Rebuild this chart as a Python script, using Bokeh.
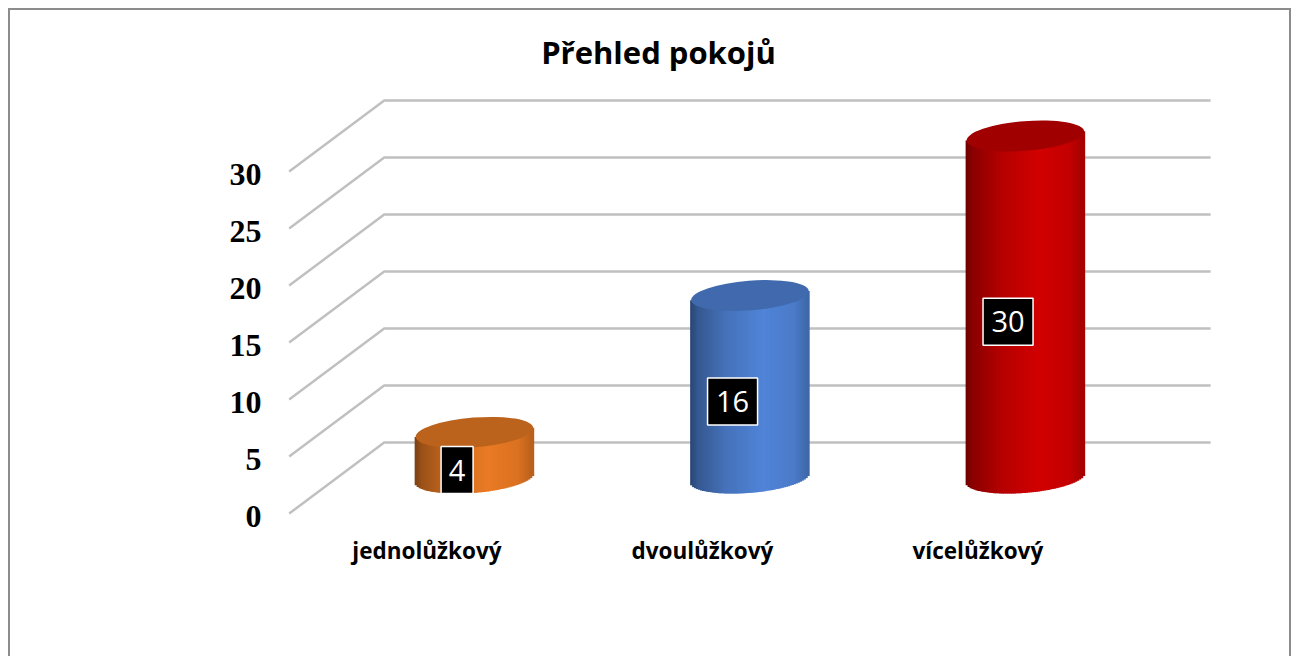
import numpy as np
from bokeh.plotting import figure
from bokeh.models import (Range1d, LinearAxis, FixedTicker, CustomJSTickFormatter,
                          Label, ColumnDataSource)
from bokeh.core.properties import value
from bokeh.embed import file_html
from bokeh.resources import INLINE

# ---------------- data ----------------
title_text = "Přehled pokojů"
categories = ["jednolůžkový", "dvoulůžkový", "vícelůžkový"]
counts = [4, 16, 30]
y_ticks = [0, 5, 10, 15, 20, 25, 30]

# ---------------- styles ----------------
lit_colors = ["#ea7a24", "#5084d8", "#d20000"]
top_factor = [0.80, 0.80, 0.76]
grid_color = "#c0c0c0"

# 3D geometry (pseudo-perspective), in data units
half_dx = 0.1725      # x shift from mid depth to back wall
half_dy = 3.12        # y shift from mid depth to back wall
radius_x = 0.214      # cylinder half width
radius_y = 1.3        # cylinder ellipse half height
tilt = 0.08           # ellipse tilt (radians, screen space)
px_per_x = 275.5
px_per_y = 11.4
x_lo, x_hi = -0.704, 2.966
y_lo, y_hi = -4.605, 41.18
label_nudge = 0.25    # small vertical nudge of the value-axis labels

p = figure(width=1283, height=648,
           x_range=Range1d(x_lo, x_hi), y_range=Range1d(y_lo, y_hi),
           x_axis_location=None, y_axis_location=None,
           toolbar_location=None, output_backend="svg",
           min_border_left=272, min_border_right=0,
           min_border_top=0, min_border_bottom=126)
p.margin = (8, 8, 8, 8)
p.grid.visible = False
p.outline_line_color = None
p.border_fill_color = None
p.background_fill_color = None
p.styles = {"box-shadow": "inset 2px 2px 0 0 #8c8c8c, inset -2px 0 0 0 #8c8c8c"}

p.extra_y_ranges = {"front": Range1d(y_lo + half_dy + label_nudge, y_hi + half_dy + label_nudge)}
p.extra_x_ranges = {"front_x": Range1d(x_lo + half_dx, x_hi + half_dx)}

# left value axis (front plane)
yax = LinearAxis(y_range_name="front", ticker=FixedTicker(ticks=y_ticks))
yax.axis_line_color = None
yax.major_tick_line_color = None
yax.minor_tick_line_color = None
yax.major_label_text_font = "Liberation Serif"
yax.major_label_text_font_style = "bold"
yax.major_label_text_font_size = "32px"
yax.major_label_text_color = "black"
yax.major_label_standoff = 13
p.add_layout(yax, "left")

# bottom category axis (front plane)
xax = LinearAxis(x_range_name="front_x", ticker=FixedTicker(ticks=list(range(len(categories)))))
xax.formatter = CustomJSTickFormatter(args=dict(labels=categories),
                                      code="return labels[Math.round(tick)] || '';")
xax.axis_line_color = None
xax.major_tick_line_color = None
xax.minor_tick_line_color = None
xax.major_label_text_font = "Open Sans"
xax.major_label_text_font_style = "bold"
xax.major_label_text_font_size = "22.5px"
xax.major_label_text_color = "black"
xax.major_label_standoff = -2
p.add_layout(xax, "below")

# gridlines: diagonal on side wall + horizontal on back wall
n = len(categories)
gx, gy = [], []
for v in y_ticks:
    gx.append([-0.5 - half_dx, -0.5 + half_dx, n - 0.5 + half_dx])
    gy.append([v - half_dy, v + half_dy, v + half_dy])
p.multi_line(gx, gy, line_color=grid_color, line_width=2.5)


def hex_to_rgb(h):
    h = h.lstrip("#")
    return np.array([int(h[i:i + 2], 16) for i in (0, 2, 4)], dtype=float)


def rgb_to_hex(c):
    c = np.clip(np.round(c), 0, 255).astype(int)
    return "#%02x%02x%02x" % tuple(c)


# cylinders drawn as shaded vertical strips + top ellipse
n_strips = 60
shade_t = [0.0, 0.06, 0.3, 0.62, 0.88, 1.0]
shade_f = [0.52, 0.66, 0.86, 1.0, 0.93, 0.78]
shear = np.tan(tilt) * px_per_x / px_per_y   # data-y per data-x
L, R, B, T, C = [], [], [], [], []
for i, v in enumerate(counts):
    base = hex_to_rgb(lit_colors[i])
    edges = np.linspace(i - radius_x, i + radius_x, n_strips + 1)
    for k in range(n_strips):
        xl, xr = edges[k], edges[k + 1]
        xc = 0.5 * (xl + xr) - i
        t = (k + 0.5) / n_strips
        f = np.interp(t, shade_t, shade_f)
        yb = -radius_y * np.sqrt(max(0.0, 1 - (xc / radius_x) ** 2)) + shear * xc
        L.append(xl - 0.003)
        R.append(xr + 0.003)
        B.append(yb)
        T.append(v + shear * xc)
        C.append(rgb_to_hex(base * f))
p.quad(left=L, right=R, bottom=B, top=T, fill_color=C, line_color=None)

top_cols = [rgb_to_hex(hex_to_rgb(c) * f) for c, f in zip(lit_colors, top_factor)]
p.ellipse(x=list(range(n)), y=counts, width=2 * radius_x, height=2 * radius_y,
          angle=tilt, fill_color=top_cols, line_color=None)

# value labels (black boxes)
lab_src = ColumnDataSource(dict(
    x=[i - 0.063 for i in range(n)],
    y=[v / 2 - 1.3 for v in counts],
    w=[14 + 18 * len(str(v)) for v in counts],
    t=[str(v) for v in counts],
))
p.rect(x="x", y="y", width="w", height=47, width_units="screen", height_units="screen",
       source=lab_src, fill_color="black", line_color="white", line_width=1.5)
p.text(x="x", y="y", text="t", source=lab_src, text_color="white",
       text_font=value("Open Sans"), text_font_size="29px",
       text_align="center", text_baseline="middle")

# title
p.add_layout(Label(x=378, y=479, x_units="screen", y_units="screen", text=title_text,
                   text_font="Open Sans", text_font_style="bold", text_font_size="31px",
                   text_align="center", text_baseline="middle", text_color="black"))

open("out.html", "w").write(file_html(p, INLINE))
